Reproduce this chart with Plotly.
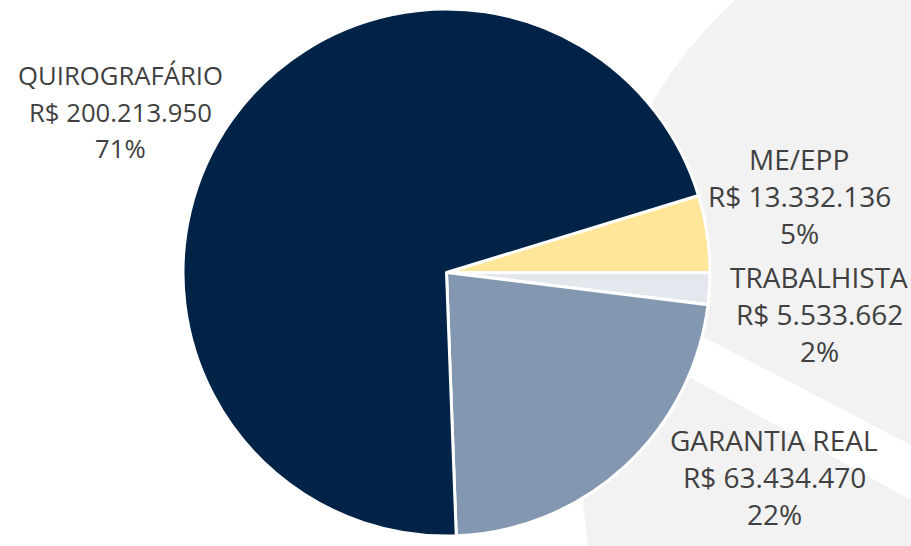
import plotly.graph_objects as go

# ---- data ----
labels = ["ME/EPP", "TRABALHISTA", "GARANTIA REAL", "QUIROGRAFÁRIO"]
values = [13332136, 5533662, 63434470, 200213950]
colors = ["#FFE699", "#E4E8EE", "#8497B0", "#002347"]

W, H = 911, 546
total = sum(values)

def brl(v):
    return "R$ " + f"{v:,}".replace(",", ".")

def px(x):
    return x / W

def py(y):
    return 1 - y / H

fig = go.Figure()
fig.add_trace(go.Pie(
    labels=labels,
    values=values,
    sort=False,
    direction="clockwise",
    rotation=73,
    marker=dict(colors=colors, line=dict(color="white", width=3)),
    textinfo="none",
    hoverinfo="label+value+percent",
    showlegend=False,
    domain=dict(x=[px(446.5 - 263.5), px(446.5 + 263.5)], y=[py(536), py(9)]),
))

# label block positions (centre x, first line y, font size, line pitch) in pixels
label_pos = {
    "ME/EPP": (799, 158, 28, 37),
    "TRABALHISTA": (819, 276, 28, 37),
    "GARANTIA REAL": (774, 439, 28, 37),
    "QUIROGRAFÁRIO": (120, 75, 25.7, 36.5),
}
annotations = []
for lab, v in zip(labels, values):
    cx, y0, fs, pitch = label_pos[lab]
    lines = [lab, brl(v), f"{round(v / total * 100)}%"]
    for i, t in enumerate(lines):
        annotations.append(dict(
            text=t, x=px(cx), y=py(y0 + i * pitch + 1), xref="paper", yref="paper",
            xanchor="center", yanchor="middle", showarrow=False,
            font=dict(family="Open Sans", size=fs, color="#404040"),
        ))

shapes = [
    dict(type="path", xref="paper", yref="paper", layer="below",
         path=f"M {px(735)} {py(0)} L {px(911)} {py(0)} L {px(911)} {py(546)} L {px(588)} {py(546)} "
              f"Q {px(540)} {py(180)} {px(735)} {py(0)} Z",
         fillcolor="#F2F2F2", line=dict(width=0)),
    dict(type="path", xref="paper", yref="paper", layer="below",
         path=f"M {px(690)} {py(330)} L {px(911)} {py(445)} L {px(911)} {py(500)} L {px(680)} {py(372)} Z",
         fillcolor="#FFFFFF", line=dict(width=0)),
]

fig.update_layout(
    width=W, height=H,
    margin=dict(l=0, r=0, t=0, b=0),
    paper_bgcolor="white",
    plot_bgcolor="white",
    annotations=annotations,
    shapes=shapes,
)

fig.write_html(
    "out.html",
    config={"displayModeBar": False},
    post_script="document.body.style.margin='0';document.body.style.overflow='hidden';",
)
